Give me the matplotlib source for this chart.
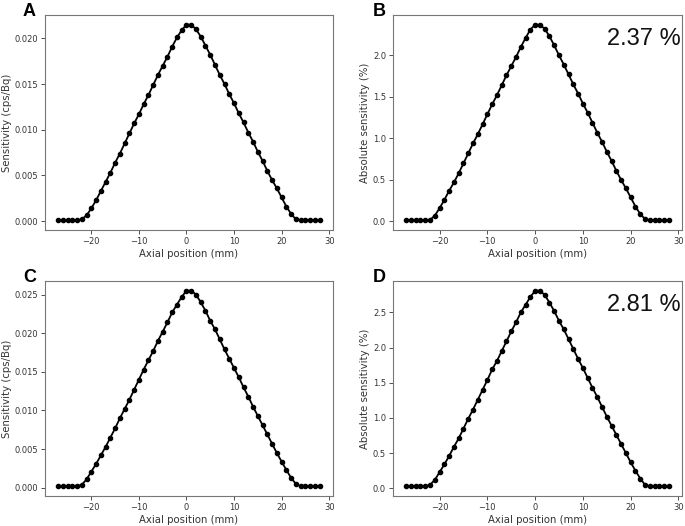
import matplotlib
matplotlib.use("Agg")
import matplotlib.pyplot as plt

# axial positions (mm), 1 mm steps
axial_mm = list(range(-27, 29))

# A: sensitivity (cps/Bq)
sens_a = [0.0001, 0.0001, 0.0001, 0.0001, 0.0001, 0.0002,
          0.00065, 0.0014, 0.0023, 0.0033, 0.0043, 0.0053, 0.0064, 0.0074,
          0.0085, 0.0096, 0.0107, 0.0117, 0.0128, 0.0138, 0.0149, 0.0160,
          0.0170, 0.0180, 0.0191, 0.0201, 0.0209, 0.0215, 0.0215, 0.0210,
          0.0202, 0.0192, 0.0182, 0.0171, 0.0160, 0.0150, 0.0139, 0.0129,
          0.0118, 0.0108, 0.0097, 0.0087, 0.0076, 0.0066, 0.0055, 0.0045,
          0.0036, 0.0026, 0.0016, 0.0008, 0.0002,
          0.0001, 0.0001, 0.0001, 0.0001, 0.0001]

# B: absolute sensitivity (%)
abs_b = [0.015, 0.015, 0.015, 0.015, 0.015, 0.02,
         0.07, 0.16, 0.26, 0.37, 0.47, 0.58, 0.70, 0.82, 0.94, 1.05, 1.17,
         1.29, 1.41, 1.52, 1.64, 1.76, 1.87, 1.98, 2.10, 2.21, 2.31, 2.37,
         2.37, 2.32, 2.23, 2.12, 2.00, 1.89, 1.77, 1.65, 1.54, 1.42, 1.31,
         1.19, 1.07, 0.96, 0.84, 0.73, 0.61, 0.50, 0.40, 0.29, 0.18, 0.09,
         0.03, 0.015, 0.015, 0.015, 0.015, 0.015]

# C: sensitivity (cps/Bq)
sens_c = [0.0002, 0.0002, 0.0002, 0.0002, 0.0002, 0.0004,
          0.0011, 0.0021, 0.0031, 0.0042, 0.0053, 0.0065, 0.0077, 0.0090,
          0.0102, 0.0114, 0.0127, 0.0140, 0.0153, 0.0165, 0.0177, 0.0190,
          0.0202, 0.0214, 0.0227, 0.0237, 0.0247, 0.0255, 0.0255, 0.0250,
          0.0240, 0.0229, 0.0216, 0.0205, 0.0192, 0.0179, 0.0167, 0.0155,
          0.0143, 0.0130, 0.0118, 0.0105, 0.0093, 0.0081, 0.0069, 0.0057,
          0.0045, 0.0034, 0.0023, 0.0013, 0.0005,
          0.0002, 0.0002, 0.0002, 0.0002, 0.0002]

# D: absolute sensitivity (%)
abs_d = [0.03, 0.03, 0.03, 0.03, 0.03, 0.05,
         0.12, 0.23, 0.34, 0.46, 0.59, 0.71, 0.85, 0.99, 1.12, 1.26, 1.40,
         1.54, 1.69, 1.81, 1.95, 2.09, 2.23, 2.36, 2.50, 2.61, 2.72, 2.81,
         2.81, 2.75, 2.64, 2.52, 2.38, 2.26, 2.12, 1.98, 1.84, 1.71, 1.57,
         1.43, 1.30, 1.16, 1.02, 0.89, 0.76, 0.63, 0.50, 0.37, 0.25, 0.14,
         0.05, 0.03, 0.03, 0.03, 0.03, 0.03]

panels = [
    ("A", sens_a, "Sensitivity (cps/Bq)", None, [0.0657, 0.5627, 0.420, 0.409]),
    ("B", abs_b, "Absolute sensitivity (%)", "2.37 %", [0.5737, 0.5627, 0.422, 0.409]),
    ("C", sens_c, "Sensitivity (cps/Bq)", None, [0.0657, 0.057, 0.420, 0.409]),
    ("D", abs_d, "Absolute sensitivity (%)", "2.81 %", [0.5737, 0.057, 0.422, 0.409]),
]

fig = plt.figure(figsize=(6.85, 5.26), dpi=100)

for letter, vals, ylabel, note, rect in panels:
    ax = fig.add_axes(rect)
    ax.plot(axial_mm, vals, color="black", linewidth=1.3,
            marker="o", markersize=3.0)
    ax.set_xticks([-20, -10, 0, 10, 20, 30])
    ax.set_xlabel("Axial position (mm)", fontsize=7.3, color="#333333", labelpad=2)
    ax.set_ylabel(ylabel, fontsize=7.3, color="#333333", labelpad=2)
    ax.tick_params(labelsize=6, colors="#333333", length=3, width=0.6, pad=2)
    for sp in ax.spines.values():
        sp.set_color("#777777")
        sp.set_linewidth(0.8)
    if note:
        ax.text(0.995, 0.94, note, transform=ax.transAxes, ha="right", va="top",
                fontsize=17, family="Liberation Sans", color="#111111")
    x0 = rect[0] * 685 - 22 if letter in "AC" else rect[0] * 685 - 20
    y0 = (rect[1] + rect[3]) * 526 + 12
    fig.text(x0 / 685, y0 / 526, letter, ha="left", va="top",
             fontsize=13, fontweight="bold", family="Liberation Sans")

fig.savefig("out.png", dpi=100)
